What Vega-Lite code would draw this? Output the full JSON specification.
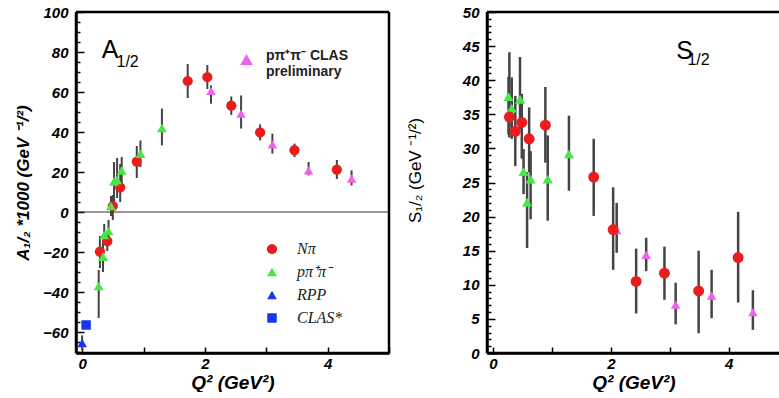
{
  "$schema": "https://vega.github.io/schema/vega-lite/v6.json",
  "padding": {"left": 14, "top": 5, "right": 0, "bottom": 0},
  "spacing": 15,
  "datasets": {
    "one": [{}],
    "a": [
      {"series": "Nπ", "q2": 0.29, "v": -19.8, "lo": -28, "hi": -12},
      {"series": "Nπ", "q2": 0.41, "v": -14.6, "lo": -19.5, "hi": -10},
      {"series": "Nπ", "q2": 0.5, "v": 3, "lo": -4, "hi": 8.5},
      {"series": "Nπ", "q2": 0.62, "v": 12.3, "lo": 5, "hi": 24},
      {"series": "Nπ", "q2": 0.89, "v": 25.2, "lo": 17, "hi": 33},
      {"series": "Nπ", "q2": 1.72, "v": 65.5, "lo": 57, "hi": 74},
      {"series": "Nπ", "q2": 2.04, "v": 67.5, "lo": 61.5, "hi": 73.5},
      {"series": "Nπ", "q2": 2.43, "v": 53.2, "lo": 48.5, "hi": 57.8},
      {"series": "Nπ", "q2": 2.9, "v": 39.8, "lo": 35.8, "hi": 43.8},
      {"series": "Nπ", "q2": 3.46, "v": 30.9, "lo": 27.5, "hi": 34.2},
      {"series": "Nπ", "q2": 4.15, "v": 21.2, "lo": 16.5, "hi": 26},
      {"series": "pπ⁺π⁻", "q2": 0.27, "v": -37, "lo": -53, "hi": -29},
      {"series": "pπ⁺π⁻", "q2": 0.34, "v": -22.3, "lo": -30, "hi": -14},
      {"series": "pπ⁺π⁻", "q2": 0.36, "v": -11.5, "lo": -16, "hi": -6},
      {"series": "pπ⁺π⁻", "q2": 0.43, "v": -9.5, "lo": -14, "hi": -4},
      {"series": "pπ⁺π⁻", "q2": 0.47, "v": 3, "lo": -2, "hi": 8},
      {"series": "pπ⁺π⁻", "q2": 0.52, "v": 15.3, "lo": 5, "hi": 25},
      {"series": "pπ⁺π⁻", "q2": 0.57, "v": 16, "lo": 7, "hi": 27},
      {"series": "pπ⁺π⁻", "q2": 0.645, "v": 20.8, "lo": 14, "hi": 27.5},
      {"series": "pπ⁺π⁻", "q2": 0.95, "v": 29.2, "lo": 22.5, "hi": 35.8},
      {"series": "pπ⁺π⁻", "q2": 1.3, "v": 42, "lo": 33.3, "hi": 51.7},
      {"series": "RPP", "q2": 0, "v": -65.5, "lo": -69, "hi": -61.7},
      {"series": "CLAS*", "q2": 0.065, "v": -56.5, "lo": -56.5, "hi": -56.5},
      {"series": "prelim", "q2": 2.1, "v": 60.5, "lo": 54.2, "hi": 63.3},
      {"series": "prelim", "q2": 2.59, "v": 49.2, "lo": 41.7, "hi": 58.3},
      {"series": "prelim", "q2": 3.1, "v": 33.8, "lo": 29.2, "hi": 39.2},
      {"series": "prelim", "q2": 3.69, "v": 20.8, "lo": 18.3, "hi": 25},
      {"series": "prelim", "q2": 4.39, "v": 16.7, "lo": 13.3, "hi": 20.8}
    ],
    "s": [
      {"series": "Nπ", "q2": 0.28, "v": 34.6, "lo": 31.6, "hi": 44.1},
      {"series": "Nπ", "q2": 0.38, "v": 32.5, "lo": 27.4, "hi": 37.7},
      {"series": "Nπ", "q2": 0.49, "v": 33.8, "lo": 28.5, "hi": 38},
      {"series": "Nπ", "q2": 0.615, "v": 31.4, "lo": 26.5, "hi": 36},
      {"series": "Nπ", "q2": 0.89, "v": 33.4, "lo": 27.9, "hi": 39},
      {"series": "Nπ", "q2": 1.71, "v": 25.8, "lo": 20.1, "hi": 31.4},
      {"series": "Nπ", "q2": 2.04, "v": 18.1, "lo": 12.2, "hi": 24.3},
      {"series": "Nπ", "q2": 2.43, "v": 10.5, "lo": 5.8, "hi": 15.3},
      {"series": "Nπ", "q2": 2.91, "v": 11.7, "lo": 7.8, "hi": 15.6},
      {"series": "Nπ", "q2": 3.49, "v": 9.1, "lo": 2.9, "hi": 15},
      {"series": "Nπ", "q2": 4.16, "v": 14, "lo": 7.4, "hi": 20.7},
      {"series": "pπ⁺π⁻", "q2": 0.265, "v": 37.6, "lo": 32, "hi": 40.5},
      {"series": "pπ⁺π⁻", "q2": 0.32, "v": 35.9, "lo": 31.4, "hi": 40.4},
      {"series": "pπ⁺π⁻", "q2": 0.46, "v": 37.2, "lo": 32.8, "hi": 43.4},
      {"series": "pπ⁺π⁻", "q2": 0.52, "v": 26.6, "lo": 23.3, "hi": 29.9},
      {"series": "pπ⁺π⁻", "q2": 0.58, "v": 22.1, "lo": 15.4, "hi": 26.5},
      {"series": "pπ⁺π⁻", "q2": 0.64, "v": 25.5, "lo": 19.6, "hi": 29.6},
      {"series": "pπ⁺π⁻", "q2": 0.93, "v": 25.5, "lo": 19.4, "hi": 31.9},
      {"series": "pπ⁺π⁻", "q2": 1.29, "v": 29.2, "lo": 23.8, "hi": 34.8},
      {"series": "prelim", "q2": 2.1, "v": 18, "lo": 14.7, "hi": 22},
      {"series": "prelim", "q2": 2.6, "v": 14.4, "lo": 12, "hi": 16.9},
      {"series": "prelim", "q2": 3.1, "v": 7.1, "lo": 4.2, "hi": 10.3},
      {"series": "prelim", "q2": 3.71, "v": 8.4, "lo": 5.1, "hi": 12.2},
      {"series": "prelim", "q2": 4.41, "v": 6, "lo": 3.4, "hi": 9.2}
    ]
  },
  "hconcat": [
    {
      "width": 313,
      "height": 341,
      "resolve": {"scale": {"color": "independent", "shape": "independent", "size": "independent"}, "axis": {"y": "independent"}},
      "layer": [
        {
          "data": {"name": "one"},
          "mark": {"type": "rule", "opacity": 0},
          "encoding": {
            "y": {"datum": 0, "type": "quantitative", "scale": {"domain": [-70.5, 100], "nice": false, "zero": false},
              "axis": {"orient": "left", "title": null, "labels": false, "domain": false, "tickSize": -4,
                "values": [-70, -65, -55, -50, -45, -35, -30, -25, -15, -10, -5, 5, 10, 15, 25, 30, 35, 45, 50, 55, 65, 70, 75, 85, 90, 95]}}
          }
        },
        {
          "data": {"name": "one"},
          "mark": {"type": "rule", "color": "#333333", "strokeWidth": 1.2},
          "encoding": {
            "x": {"datum": -0.1, "type": "quantitative", "scale": {"domain": [-0.1, 5], "nice": false, "zero": false}},
            "x2": {"datum": 5},
            "y": {"datum": 0, "type": "quantitative", "scale": {"domain": [-70.5, 100], "nice": false, "zero": false}, "axis": null}
          }
        },
        {
          "data": {"name": "one"},
          "mark": {"type": "rule", "color": "black", "strokeWidth": 2.5},
          "encoding": {
            "x": {"datum": -0.1, "type": "quantitative", "scale": {"domain": [-0.1, 5], "nice": false, "zero": false}},
            "x2": {"datum": 5},
            "y": {"datum": 100, "type": "quantitative", "scale": {"domain": [-70.5, 100], "nice": false, "zero": false}, "axis": null}
          }
        },
        {
          "data": {"name": "one"},
          "mark": {"type": "rule", "color": "black", "strokeWidth": 2.5},
          "encoding": {
            "x": {"datum": -0.1, "type": "quantitative", "scale": {"domain": [-0.1, 5], "nice": false, "zero": false}},
            "x2": {"datum": 5},
            "y": {"datum": -70.5, "type": "quantitative", "scale": {"domain": [-70.5, 100], "nice": false, "zero": false}, "axis": null}
          }
        },
        {
          "data": {"name": "one"},
          "mark": {"type": "rule", "color": "black", "strokeWidth": 2.5},
          "encoding": {
            "x": {"datum": 5, "type": "quantitative", "scale": {"domain": [-0.1, 5], "nice": false, "zero": false}},
            "y": {"datum": -70.5, "type": "quantitative", "scale": {"domain": [-70.5, 100], "nice": false, "zero": false}, "axis": null},
            "y2": {"datum": 100}
          }
        },
        {
          "data": {"name": "one"},
          "mark": {"type": "rule", "color": "black", "strokeWidth": 2.5},
          "encoding": {
            "x": {"datum": -0.1, "type": "quantitative", "scale": {"domain": [-0.1, 5], "nice": false, "zero": false}},
            "y": {"datum": -70.5, "type": "quantitative", "scale": {"domain": [-70.5, 100], "nice": false, "zero": false}, "axis": null},
            "y2": {"datum": 100}
          }
        },
        {
          "data": {"name": "a"},
          "mark": {"type": "rule", "color": "#444444", "strokeWidth": 2},
          "encoding": {
            "x": {"field": "q2", "type": "quantitative", "scale": {"domain": [-0.1, 5], "nice": false, "zero": false},
              "axis": {"title": "Q² (GeV²)", "titleFontSize": 19, "titlePadding": 2,
                "values": [0, 0.5, 1, 1.5, 2, 2.5, 3, 3.5, 4, 4.5, 5],
                "labelExpr": "datum.value % 2 === 0 && datum.value <= 4 ? '' + datum.value : ''",
                "labelOverlap": false, "tickSize": {"expr": "-6"}, "labelPadding": 9}},
            "y": {"field": "lo", "type": "quantitative", "scale": {"domain": [-70.5, 100], "nice": false, "zero": false},
              "axis": {"orient": "left", "title": "A₁/₂ *1000 (GeV ⁻¹/²)", "titleFontSize": 17, "titlePadding": 10,
                "values": [-60, -40, -20, 0, 20, 40, 60, 80, 100], "format": "d",
                "labelOverlap": false, "tickSize": -8, "labelPadding": 16}},
            "y2": {"field": "hi"}
          }
        },
        {
          "data": {"name": "a"},
          "transform": [{"filter": "datum.series === 'prelim'"}],
          "mark": {"type": "point", "filled": true, "opacity": 1, "shape": "triangle-up", "size": 90},
          "encoding": {
            "x": {"field": "q2", "type": "quantitative", "scale": {"domain": [-0.1, 5], "nice": false, "zero": false}},
            "y": {"field": "v", "type": "quantitative", "scale": {"domain": [-70.5, 100], "nice": false, "zero": false}, "axis": null},
            "color": {"field": "series", "type": "nominal", "scale": {"domain": ["prelim"], "range": ["#f060f0"]},
              "legend": {"orient": "none", "legendX": 163, "legendY": 40, "title": null, "padding": 0,
                "labelExpr": "['pπ⁺π⁻  CLAS', 'preliminary']", "labelFont": "Liberation Sans", "labelFontWeight": "bold",
                "labelFontSize": 14, "labelColor": "#222222", "symbolType": "triangle-up", "symbolSize": 160,
                "labelOffset": 12, "labelBaseline": "alphabetic"}}
          }
        },
        {
          "data": {"name": "a"},
          "transform": [{"filter": "datum.series !== 'prelim'"}],
          "mark": {"type": "point", "filled": true, "opacity": 1},
          "encoding": {
            "x": {"field": "q2", "type": "quantitative", "scale": {"domain": [-0.1, 5], "nice": false, "zero": false}},
            "y": {"field": "v", "type": "quantitative", "scale": {"domain": [-70.5, 100], "nice": false, "zero": false}, "axis": null},
            "color": {"field": "series", "type": "nominal",
              "scale": {"domain": ["Nπ", "pπ⁺π⁻", "RPP", "CLAS*"], "range": ["#ea1c1c", "#48e648", "#1a35f0", "#1a35f0"]},
              "legend": {"orient": "none", "legendX": 188, "legendY": 229, "title": null, "padding": 0,
                "labelFont": "Liberation Serif", "labelFontStyle": "italic", "labelFontSize": 16, "labelColor": "#222222",
                "labelOffset": 17, "rowPadding": 7}},
            "shape": {"field": "series", "type": "nominal",
              "scale": {"domain": ["Nπ", "pπ⁺π⁻", "RPP", "CLAS*"], "range": ["circle", "triangle-up", "triangle-up", "square"]}},
            "size": {"field": "series", "type": "nominal",
              "scale": {"domain": ["Nπ", "pπ⁺π⁻", "RPP", "CLAS*"], "range": [105, 90, 60, 64]}}
          }
        },
        {
          "data": {"name": "one"},
          "mark": {"type": "text", "text": "A", "font": "Liberation Sans", "fontSize": 25, "align": "left", "baseline": "alphabetic", "color": "black"},
          "encoding": {
            "x": {"datum": 0.32, "type": "quantitative", "scale": {"domain": [-0.1, 5], "nice": false, "zero": false}},
            "y": {"datum": 76.8, "type": "quantitative", "scale": {"domain": [-70.5, 100], "nice": false, "zero": false}, "axis": null}
          }
        },
        {
          "data": {"name": "one"},
          "mark": {"type": "text", "text": "1/2", "font": "Liberation Sans", "fontSize": 16, "align": "left", "baseline": "alphabetic", "color": "black"},
          "encoding": {
            "x": {"datum": 0.56, "type": "quantitative", "scale": {"domain": [-0.1, 5], "nice": false, "zero": false}},
            "y": {"datum": 72.5, "type": "quantitative", "scale": {"domain": [-70.5, 100], "nice": false, "zero": false}, "axis": null}
          }
        }
      ]
    },
    {
      "width": 293,
      "height": 341,
      "resolve": {"axis": {"y": "independent"}},
      "layer": [
        {
          "data": {"name": "one"},
          "mark": {"type": "rule", "opacity": 0},
          "encoding": {
            "y": {"datum": 0, "type": "quantitative", "scale": {"domain": [0, 50], "nice": false, "zero": false},
              "axis": {"orient": "left", "title": null, "labels": false, "domain": false, "tickSize": -4,
                "values": [1, 2, 3, 4, 6, 7, 8, 9, 11, 12, 13, 14, 16, 17, 18, 19, 21, 22, 23, 24, 26, 27, 28, 29, 31, 32, 33, 34, 36, 37, 38, 39, 41, 42, 43, 44, 46, 47, 48, 49]}}
          }
        },
        {
          "data": {"name": "one"},
          "mark": {"type": "rule", "color": "black", "strokeWidth": 2.5},
          "encoding": {
            "x": {"datum": -0.1, "type": "quantitative", "scale": {"domain": [-0.1, 4.87], "nice": false, "zero": false}},
            "x2": {"datum": 4.87},
            "y": {"datum": 50, "type": "quantitative", "scale": {"domain": [0, 50], "nice": false, "zero": false}, "axis": null}
          }
        },
        {
          "data": {"name": "one"},
          "mark": {"type": "rule", "color": "black", "strokeWidth": 2.5},
          "encoding": {
            "x": {"datum": -0.1, "type": "quantitative", "scale": {"domain": [-0.1, 4.87], "nice": false, "zero": false}},
            "x2": {"datum": 4.87},
            "y": {"datum": 0, "type": "quantitative", "scale": {"domain": [0, 50], "nice": false, "zero": false}, "axis": null}
          }
        },
        {
          "data": {"name": "one"},
          "mark": {"type": "rule", "color": "black", "strokeWidth": 2.5},
          "encoding": {
            "x": {"datum": -0.1, "type": "quantitative", "scale": {"domain": [-0.1, 4.87], "nice": false, "zero": false}},
            "y": {"datum": 0, "type": "quantitative", "scale": {"domain": [0, 50], "nice": false, "zero": false}, "axis": null},
            "y2": {"datum": 50}
          }
        },
        {
          "data": {"name": "s"},
          "mark": {"type": "rule", "color": "#444444", "strokeWidth": 2.5},
          "encoding": {
            "x": {"field": "q2", "type": "quantitative", "scale": {"domain": [-0.1, 4.87], "nice": false, "zero": false},
              "axis": {"title": "Q² (GeV²)", "titleFontSize": 19, "titlePadding": 2,
                "values": [0, 0.5, 1, 1.5, 2, 2.5, 3, 3.5, 4, 4.5],
                "labelExpr": "datum.value % 2 === 0 ? '' + datum.value : ''",
                "labelOverlap": false, "tickSize": -6, "labelPadding": 9}},
            "y": {"field": "lo", "type": "quantitative", "scale": {"domain": [0, 50], "nice": false, "zero": false},
              "axis": {"orient": "left", "title": "S₁/₂ (GeV ⁻¹/²)", "titleFontSize": 17, "titleFontWeight": "normal", "titleFontStyle": "normal",
                "titlePadding": 10, "titleX": -63, "titleY": 158,
                "values": [0, 5, 10, 15, 20, 25, 30, 35, 40, 45, 50], "format": "d",
                "labelOverlap": false, "tickSize": -8, "labelPadding": 16}},
            "y2": {"field": "hi"}
          }
        },
        {
          "data": {"name": "s"},
          "mark": {"type": "point", "filled": true, "opacity": 1},
          "encoding": {
            "x": {"field": "q2", "type": "quantitative", "scale": {"domain": [-0.1, 4.87], "nice": false, "zero": false}},
            "y": {"field": "v", "type": "quantitative", "scale": {"domain": [0, 50], "nice": false, "zero": false}, "axis": null},
            "color": {"field": "series", "type": "nominal",
              "scale": {"domain": ["Nπ", "pπ⁺π⁻", "prelim"], "range": ["#ea1c1c", "#48e648", "#f060f0"]}, "legend": null},
            "shape": {"field": "series", "type": "nominal",
              "scale": {"domain": ["Nπ", "pπ⁺π⁻", "prelim"], "range": ["circle", "triangle-up", "triangle-up"]}, "legend": null},
            "size": {"field": "series", "type": "nominal",
              "scale": {"domain": ["Nπ", "pπ⁺π⁻", "prelim"], "range": [120, 90, 85]}, "legend": null},
            "order": {"field": "series", "sort": "descending"}
          }
        },
        {
          "data": {"name": "one"},
          "mark": {"type": "text", "text": "S", "font": "Liberation Sans", "fontSize": 25, "align": "left", "baseline": "alphabetic", "color": "black"},
          "encoding": {
            "x": {"datum": 3.11, "type": "quantitative", "scale": {"domain": [-0.1, 4.87], "nice": false, "zero": false}},
            "y": {"datum": 43.1, "type": "quantitative", "scale": {"domain": [0, 50], "nice": false, "zero": false}, "axis": null}
          }
        },
        {
          "data": {"name": "one"},
          "mark": {"type": "text", "text": "1/2", "font": "Liberation Sans", "fontSize": 16, "align": "left", "baseline": "alphabetic", "color": "black"},
          "encoding": {
            "x": {"datum": 3.3, "type": "quantitative", "scale": {"domain": [-0.1, 4.87], "nice": false, "zero": false}},
            "y": {"datum": 42.2, "type": "quantitative", "scale": {"domain": [0, 50], "nice": false, "zero": false}, "axis": null}
          }
        }
      ]
    }
  ],
  "config": {
    "view": {"stroke": null},
    "axis": {
      "grid": false, "domain": true, "domainColor": "black", "domainWidth": 2.5, "ticks": true, "tickColor": "black", "tickWidth": 1.5,
      "labelOverlap": false, "labelBound": false,
      "labelFont": "Liberation Sans", "labelFontWeight": "bold", "labelFontStyle": "italic", "labelFontSize": 15, "labelColor": "black",
      "titleFont": "Liberation Sans", "titleFontWeight": "bold", "titleFontStyle": "italic", "titleColor": "black"
    }
  }
}
